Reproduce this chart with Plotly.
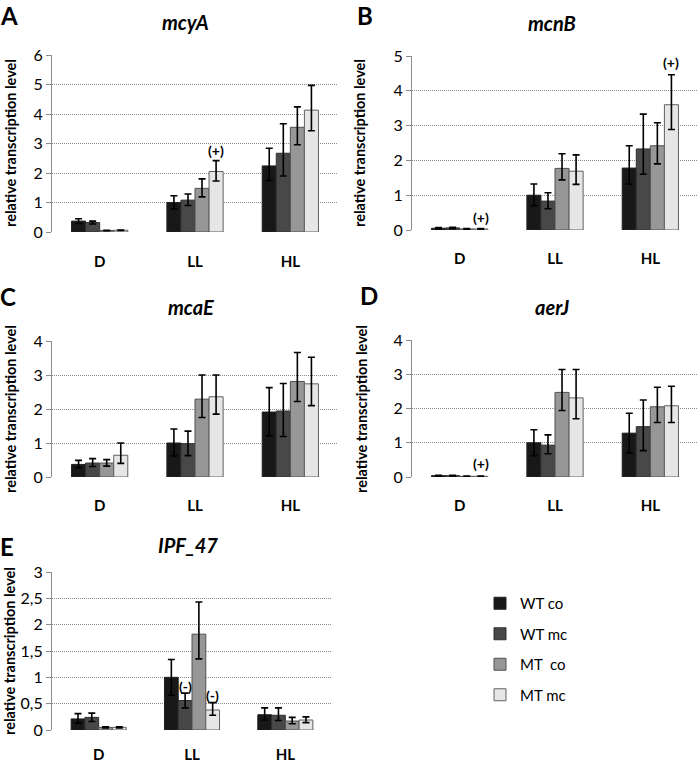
import plotly.graph_objects as go

W, H = 700, 765

categories = ["D", "LL", "HL"]
series_names = ["WT co", "WT mc", "MT\u00a0 co", "MT mc"]
series_colors = ["#181818", "#484848", "#979797", "#e6e6e6"]
series_lines = ["#202020", "#303030", "#505050", "#606060"]

# ---- Panel A: mcyA ----
mcyA_vals = [[0.37, 1.00, 2.24], [0.32, 1.08, 2.67], [0.05, 1.48, 3.55], [0.06, 2.05, 4.13]]
mcyA_up = [[0.08, 0.23, 0.60], [0.05, 0.21, 1.00], [0.01, 0.32, 0.69], [0.01, 0.37, 0.84]]
mcyA_dn = [[0.08, 0.22, 0.49], [0.05, 0.18, 0.77], [0.01, 0.29, 0.59], [0.01, 0.32, 0.70]]

# ---- Panel B: mcnB ----
mcnB_vals = [[0.05, 1.00, 1.78], [0.06, 0.83, 2.33], [0.03, 1.77, 2.42], [0.03, 1.69, 3.60]]
mcnB_up = [[0.02, 0.32, 0.64], [0.02, 0.24, 1.00], [0.01, 0.42, 0.66], [0.01, 0.47, 0.86]]
mcnB_dn = [[0.02, 0.30, 0.46], [0.02, 0.22, 0.73], [0.01, 0.33, 0.52], [0.01, 0.38, 0.71]]

# ---- Panel C: mcaE ----
mcaE_vals = [[0.37, 1.00, 1.91], [0.41, 0.98, 1.94], [0.41, 2.29, 2.81], [0.64, 2.36, 2.74]]
mcaE_up = [[0.12, 0.41, 0.72], [0.13, 0.37, 0.81], [0.10, 0.71, 0.85], [0.36, 0.64, 0.78]]
mcaE_dn = [[0.10, 0.38, 0.70], [0.10, 0.35, 0.75], [0.09, 0.54, 0.59], [0.24, 0.51, 0.64]]

# ---- Panel D: aerJ ----
aerJ_vals = [[0.04, 1.00, 1.28], [0.04, 0.93, 1.47], [0.02, 2.47, 2.05], [0.02, 2.31, 2.08]]
aerJ_up = [[0.01, 0.38, 0.58], [0.01, 0.30, 0.78], [0.01, 0.67, 0.57], [0.01, 0.83, 0.57]]
aerJ_dn = [[0.01, 0.38, 0.58], [0.01, 0.25, 0.70], [0.01, 0.53, 0.46], [0.01, 0.61, 0.49]]

# ---- Panel E: IPF_47 ----
ipf_vals = [[0.21, 1.00, 0.29], [0.24, 0.56, 0.28], [0.05, 1.82, 0.17], [0.05, 0.38, 0.19]]
ipf_up = [[0.10, 0.34, 0.13], [0.08, 0.14, 0.14], [0.01, 0.61, 0.07], [0.01, 0.14, 0.06]]
ipf_dn = [[0.08, 0.34, 0.10], [0.08, 0.14, 0.10], [0.01, 0.47, 0.05], [0.01, 0.10, 0.05]]

panel_titles = ["mcyA", "mcnB", "mcaE", "aerJ", "IPF_47"]
panel_letters = ["A", "B", "C", "D", "E"]
panel_ymax = [6, 5, 4, 4, 3]
panel_dtick = [1, 1, 1, 1, 0.5]

# significance marks: (panel index, category, series index, y value, text)
marks = [
    (0, "LL", 3, 2.75, "(+)"),
    (1, "HL", 3, 4.80, "(+)"),
    (1, "D", 3, 0.36, "(+)"),
    (3, "D", 3, 0.40, "(+)"),
    (4, "LL", 1, 0.83, "(-)"),
    (4, "LL", 3, 0.66, "(-)"),
]

panels = [
    (mcyA_vals, mcyA_up, mcyA_dn),
    (mcnB_vals, mcnB_up, mcnB_dn),
    (mcaE_vals, mcaE_up, mcaE_dn),
    (aerJ_vals, aerJ_up, aerJ_dn),
    (ipf_vals, ipf_up, ipf_dn),
]

# layout geometry in pixels: (x0, x1, ytop, ybottom)
boxes = [
    (52, 338, 55, 232),
    (412, 698, 56, 230),
    (52, 338, 341, 477),
    (412, 698, 340, 477),
    (52, 332, 572, 730),
]
letter_pos = [(-1, 0), (356, 0), (-1, 281), (359, 280), (-1, 531)]
title_pos = [(185, 22), (552, 23), (191, 307), (552, 307), (188, 545)]
ytitle_pos = [(10, 143), (359, 143), (10, 409), (361, 409), (9, 651)]
label_standoff = [19, 18, 18, 18, 14]

FONT = "Lato, 'Open Sans', sans-serif"
BARGAP = 0.41

fig = go.Figure()
annotations = []
layout_axes = {}

def px_x(x):
    return x / W

def px_y(y):
    return 1 - y / H

for p, (vals, up, dn) in enumerate(panels):
    suffix = "" if p == 0 else str(p + 1)
    xa, ya = "x" + suffix, "y" + suffix
    for s in range(4):
        fig.add_trace(go.Bar(
            x=categories, y=vals[s], name=series_names[s],
            xaxis=xa, yaxis=ya,
            marker=dict(color=series_colors[s], line=dict(color=series_lines[s], width=1)),
            error_y=dict(type="data", symmetric=False, array=up[s], arrayminus=dn[s],
                         color="black", thickness=1.6, width=3.5),
            showlegend=(p == 4), legendgroup="g%d" % s,
        ))
    x0, x1, yt, yb = boxes[p]
    layout_axes["xaxis" + suffix] = dict(
        domain=[px_x(x0), px_x(x1)], anchor=ya, showgrid=False, showline=False,
        ticks="", zeroline=False, automargin=False,
        tickfont=dict(size=15, family=FONT, color="black", weight="bold"),
        ticklabelstandoff=label_standoff[p], fixedrange=True,
    )
    layout_axes["yaxis" + suffix] = dict(
        domain=[px_y(yb), px_y(yt)], anchor=xa, range=[0, panel_ymax[p]], dtick=panel_dtick[p],
        showgrid=True, gridcolor="#8a8a8a", griddash="1px,1px", gridwidth=1,
        zeroline=False, showline=True, linecolor="#8c8c8c", linewidth=1.2,
        ticks="outside", ticklen=5, tickcolor="#8c8c8c", automargin=False,
        tickfont=dict(size=16, family=FONT, color="black"), fixedrange=True,
    )
    lx, ly = letter_pos[p]
    annotations.append(dict(text="<b>%s</b>" % panel_letters[p], x=px_x(lx), y=px_y(ly),
                            xref="paper", yref="paper", xanchor="left", yanchor="top",
                            borderpad=0,
                            showarrow=False, font=dict(size=24, family=FONT, color="black")))
    tx, ty = title_pos[p]
    annotations.append(dict(text="<b><i>%s</i></b>" % panel_titles[p], x=px_x(tx), y=px_y(ty),
                            xref="paper", yref="paper", xanchor="center", yanchor="middle",
                            showarrow=False, font=dict(size=20, family=FONT, color="black")))
    yx, yy = ytitle_pos[p]
    annotations.append(dict(text="<b>relative transcription level</b>", x=px_x(yx), y=px_y(yy),
                            xref="paper", yref="paper", xanchor="center", yanchor="middle",
                            textangle=-90, showarrow=False,
                            font=dict(size=14.5, family=FONT, color="black")))

# significance marks placed over the matching bar
for (p, cat, s, yv, txt) in marks:
    suffix = "" if p == 0 else str(p + 1)
    x0, x1, yt, yb = boxes[p]
    cat_w = (x1 - x0) / len(categories)
    bar_w = cat_w * (1 - BARGAP) / 4
    shift = (s - 1.5) * bar_w
    annotations.append(dict(text="<b>%s</b>" % txt, x=cat, y=yv, xref="x" + suffix, yref="y" + suffix,
                            xshift=shift, showarrow=False, xanchor="center", yanchor="middle",
                            font=dict(size=14, family=FONT, color="black")))

fig.update_layout(
    width=W, height=H, margin=dict(l=0, r=0, t=0, b=0, autoexpand=False),
    paper_bgcolor="white", plot_bgcolor="white",
    barmode="group", bargap=BARGAP, bargroupgap=0,
    separators=",.",
    font=dict(family=FONT, color="black"),
    annotations=annotations,
    legend=dict(x=px_x(480), y=px_y(587), xanchor="left", yanchor="top",
                font=dict(size=15, family=FONT, color="black"),
                tracegroupgap=8, bgcolor="rgba(0,0,0,0)"),
    **layout_axes,
)

fig.write_html("out.html", config={"displayModeBar": False},
               post_script="document.body.style.margin='0';")
